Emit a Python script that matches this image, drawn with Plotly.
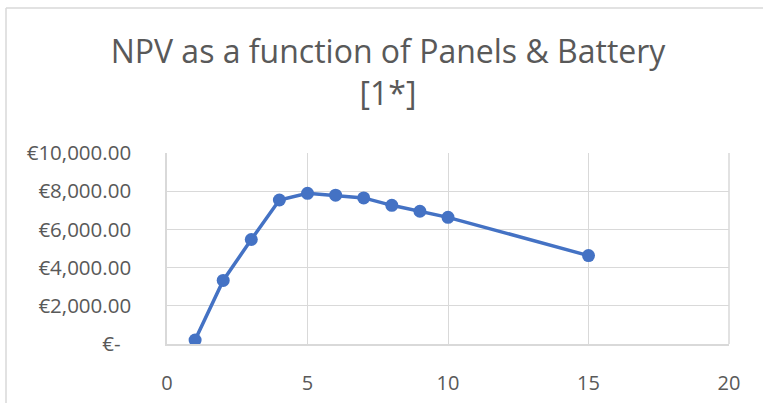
import plotly.graph_objects as go

# Data
panels = [1, 2, 3, 4, 5, 6, 7, 8, 9, 10, 15]
npv = [210, 3330, 5470, 7540, 7890, 7790, 7650, 7260, 6950, 6630, 4630]

y_tick_vals = [0, 2000, 4000, 6000, 8000, 10000]
y_tick_text = ["€- \u00a0", "€2,000.00", "€4,000.00", "€6,000.00", "€8,000.00", "€10,000.00"]
x_tick_vals = [0, 5, 10, 15, 20]

title_line1 = "NPV as a function of Panels & Battery"
title_line2 = "[1*]"

FONT = "Open Sans"
GRAY = "#595959"
GRID = "#d9d9d9"
BLUE = "#4472C4"

fig = go.Figure()
fig.add_trace(go.Scatter(
    x=panels, y=npv, mode="lines+markers",
    line=dict(color=BLUE, width=3.5),
    marker=dict(color=BLUE, size=13),
    showlegend=False, hoverinfo="x+y",
))

W, H = 763, 403
ml, mr, mt, mb = 167, 34, 153, 59
pw = W - ml - mr
ph = H - mt - mb

fig.update_layout(
    width=W, height=H,
    margin=dict(l=ml, r=mr, t=mt, b=mb, pad=0, autoexpand=False),
    paper_bgcolor="white", plot_bgcolor="white",
    title=dict(
        text=title_line1 + "<br>" + title_line2,
        x=388 / W, xanchor="center", xref="container",
        y=1 - 63 / H, yanchor="top", yref="container",
        font=dict(family=FONT, size=32, color=GRAY),
        automargin=False,
    ),
    xaxis=dict(
        range=[0, 20], tickvals=x_tick_vals, showgrid=True, gridcolor=GRID, gridwidth=1.3,
        zeroline=False, showline=True, linecolor=GRID, linewidth=1.5,
        ticks="", ticklabelstandoff=20, automargin=False,
        tickfont=dict(family=FONT, size=20, color=GRAY),
        fixedrange=True, mirror=False,
    ),
    yaxis=dict(
        range=[0, 10000], tickvals=y_tick_vals, ticktext=y_tick_text,
        showgrid=True, gridcolor=GRID, gridwidth=1.3,
        zeroline=False, showline=True, linecolor=GRID, linewidth=1.5,
        ticks="", ticklabelstandoff=30, automargin=False,
        tickfont=dict(family=FONT, size=20.5, color=GRAY),
        fixedrange=True,
    ),
    shapes=[
        dict(type="line", xref="paper", yref="paper", x0=1, x1=1, y0=0, y1=1,
             line=dict(color=GRID, width=1.5), layer="below"),
        dict(type="line", xref="paper", yref="paper",
             x0=(6 - ml) / pw, x1=(W + 5 - ml) / pw,
             y0=1 + (mt - 8) / ph, y1=1 + (mt - 8) / ph,
             line=dict(color="#d9d9d9", width=1.5)),
        dict(type="line", xref="paper", yref="paper",
             x0=(6 - ml) / pw, x1=(6 - ml) / pw,
             y0=1 + (mt - 8) / ph, y1=-(mb + 5) / ph,
             line=dict(color="#d9d9d9", width=1.5)),
    ],
)

fig.write_html(
    "out.html",
    config={"displayModeBar": False},
    post_script="document.body.style.margin='0';document.body.style.padding='0';",
)
